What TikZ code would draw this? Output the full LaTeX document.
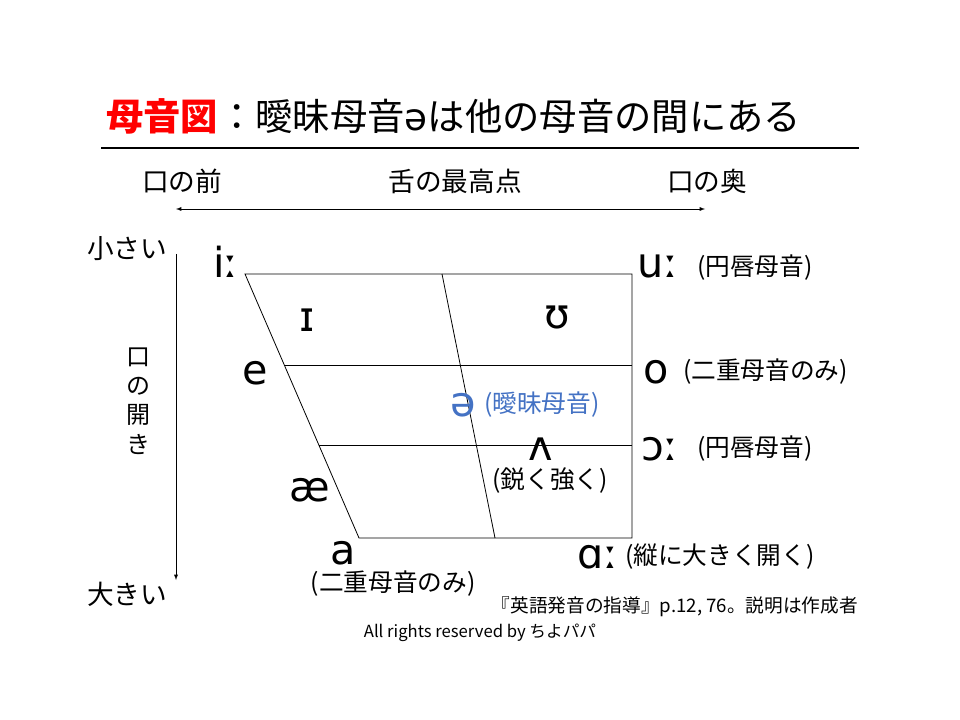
\documentclass[tikz,border=0pt]{standalone}
\usepackage{xcolor}
\usepackage{fontspec}
\usepackage{tikz}
\usetikzlibrary{shapes, arrows}
\setmainfont{Noto Sans CJK JP}
\newfontfamily\ipafont{DejaVu Sans}
\definecolor{schwablue}{RGB}{68,114,196}
\tikzset{
  ipa/.style={font=\ipafont\fontsize{31}{36}\selectfont, inner sep=0pt},
  note/.style={font=\fontsize{18.5}{22}\selectfont, inner sep=0pt},
  axislabel/.style={font=\fontsize{20}{24}\selectfont, inner sep=0pt}
}
\begin{document}
\begin{tikzpicture}[x=0.75pt,y=0.75pt,yscale=-1,xscale=1]
%set diagram to the slide size
\fill[white] (0,0) rectangle (960,720);
\useasboundingbox (0,0) rectangle (960,720);

% Title
\node [anchor=west, inner sep=0pt, font=\fontsize{28}{34}\selectfont] (title) at (106,116) {\textcolor{red}{\textbf{母音図}}：曖昧母音{\ipafont ə}は他の母音の間にある};
%Straight Lines [rule]
\coordinate (rulel) at (101,148);
\coordinate (ruler) at (859,148);
\draw [line width=1.2pt] (rulel) -- (ruler);

% Text Node
\node [axislabel] (front) at (182,181) {口の前};
% Text Node
\node [axislabel] (tongue) at (455,181) {舌の最高点};
% Text Node
\node [axislabel] (back) at (707,181) {口の奥};
%Straight Lines [front-back]
\coordinate (fbl) at (176,209);
\coordinate (fbr) at (705,209);
\draw [latex-latex] (fbl) -- (fbr);

% Text Node
\node [axislabel] (small) at (127,249) {小さい};
% Text Node
\node [axislabel] (large) at (127,594) {大きい};
% Text Node
\node [inner sep=0pt, align=center, font=\fontsize{18}{22}\selectfont] (opening) at (138,401) {口\\の\\開\\き};
%Straight Lines [opening]
\coordinate (opt) at (176,254);
\coordinate (opb) at (176,580);
\draw [-latex] (opt) -- (opb);

%Chart outline
\coordinate (tl) at (245,274);
\coordinate (tr) at (632,274);
\coordinate (br) at (632,538);
\coordinate (bl) at (359,538);
\coordinate (tm) at (442,274);
\coordinate (bm) at (495,538);
\coordinate (ml) at (284.3,365);
\coordinate (mr) at (632,365);
\coordinate (ll) at (318.8,445);
\coordinate (lr) at (632,445);
\draw [line width=0.6pt] (tl) -- (tr) -- (br) -- (bl) -- cycle;
\draw [line width=0.6pt] (tm) -- (bm);
\draw [line width=0.6pt] (ml) -- (mr);
\draw [line width=0.6pt] (ll) -- (lr);

% Vowels
\node [ipa] (ilong) at (226,262) {iː};
\node [ipa] (ishort) at (307,320) {ɪ};
\node [ipa] (ushort) at (557,318) {ʊ};
\node [ipa] (e) at (255,373) {e};
\node [ipa, text=schwablue] (schwa) at (463,405) {ə};
\node [note, anchor=west, text=schwablue] (schwanote) at (484,405) {(曖昧母音)};
\node [ipa] (wedge) at (541,449) {ʌ};
\node [note] (wedgenote) at (550,481) {(鋭く強く)};
\node [ipa] (ash) at (310,490) {æ};
\node [ipa] (a) at (343,553) {a};
\node [note] (anote) at (393,584) {(二重母音のみ)};
\node [ipa] (ulong) at (658,266) {uː};
\node [note, anchor=west] (ulongnote) at (697,268) {(円唇母音)};
\node [ipa] (o) at (656,372) {o};
\node [note, anchor=west] (onote) at (683,372) {(二重母音のみ)};
\node [ipa] (openo) at (660,449) {ɔː};
\node [note, anchor=west] (openonote) at (697,449) {(円唇母音)};
\node [ipa] (alpha) at (598,557) {ɑː};
\node [note, anchor=west] (alphanote) at (625,557) {(縦に大きく開く)};

% Text Node
\node [anchor=east, inner sep=0pt, font=\fontsize{14}{17}\selectfont] (source) at (858,607) {『英語発音の指導』p.12, 76。説明は作成者};
% Text Node
\node [inner sep=0pt, font=\fontsize{12.5}{14}\selectfont] (rights) at (480,633) {All rights reserved by ちよパパ};

\end{tikzpicture}
\end{document}
